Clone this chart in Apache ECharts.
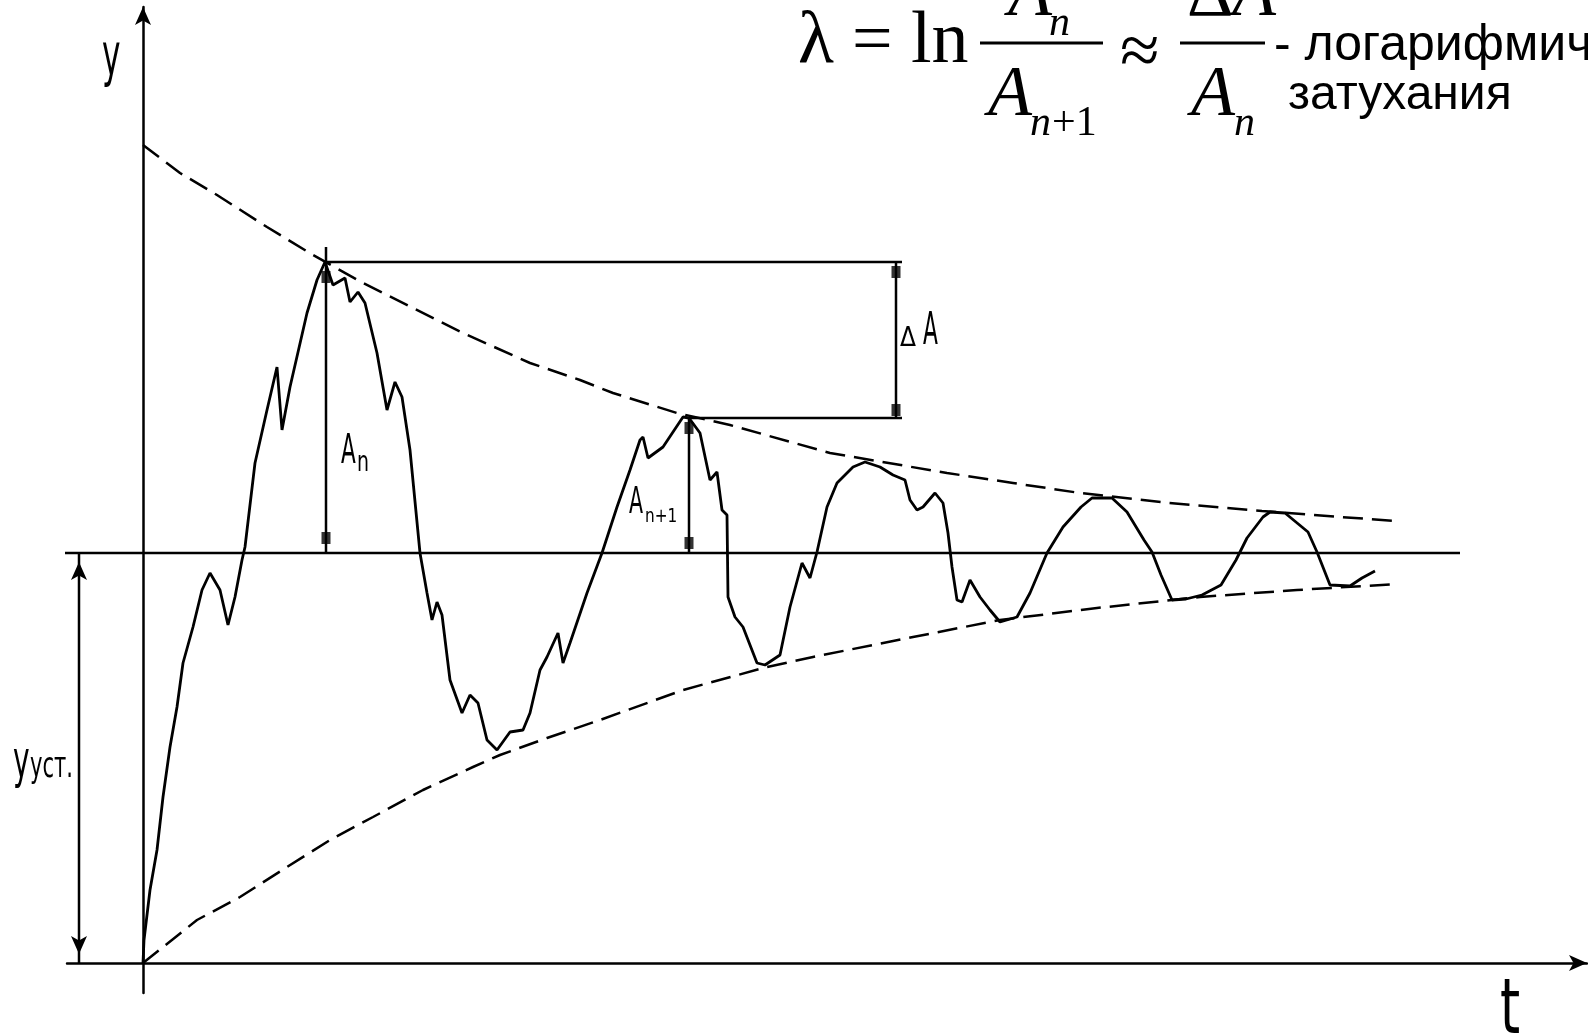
<!DOCTYPE html>
<html lang="ru">
<head>
<meta charset="UTF-8">
<title>Логарифмический декремент затухания</title>
<script src="https://cdn.jsdelivr.net/npm/echarts@6/dist/echarts.min.js"></script>
<style>
    html, body { margin: 0; padding: 0; background: #fff; }
    #chart { width: 1588px; height: 1036px; }
</style>
</head>
<body>
<div id="chart"></div>
<script>
// units: t and y both in 10px steps of the original drawing, y_уст = 41
var responseCurve = [
    [0,0],[0.1,2.3],[0.7,7.3],[1.4,11.3],[2.0,16.6],[2.7,21.6],[3.4,25.6],[4.0,30.0],[5.0,33.6],[5.9,37.3],
    [6.7,39.0],[7.7,37.3],[8.5,33.8],[9.2,36.6],[9.9,40.3],[10.2,41.6],[11.2,50.0],[12.4,55.3],[13.4,59.6],
    [13.9,53.3],[14.7,57.6],[16.4,65.0],[17.4,68.3],[18.2,70.1],[19.0,67.8],[20.2,68.5],[20.7,66.1],[21.5,67.1],
    [22.2,66.0],[23.4,61.0],[24.4,55.3],[25.2,58.1],[25.9,56.6],[26.7,51.3],[27.7,41.0],[28.4,37.0],[28.9,34.3],
    [29.4,36.1],[29.9,34.8],[30.7,28.3],[31.9,25.0],[32.7,26.8],[33.5,26.0],[34.4,22.3],[35.4,21.3],[36.7,23.1],
    [38.0,23.3],[38.7,25.0],[39.7,29.3],[40.4,30.6],[41.5,33.0],[42.0,30.0],[42.7,32.0],[44.4,37.0],[45.9,41.0],
    [47.4,45.6],[48.7,49.3],[49.7,52.3],[50.0,52.6],[50.5,50.5],[52.0,51.6],[54.0,54.6],[54.6,54.5],[55.7,53.0],
    [56.7,48.3],[57.4,49.1],[57.9,45.3],[58.4,44.8],[58.5,36.6],[59.2,34.6],[60.0,33.6],[61.4,30.0],[62.2,29.8],
    [63.7,30.8],[64.7,35.6],[65.9,40.0],[66.7,38.5],[67.4,41.1],[68.4,45.6],[69.4,48.0],[71.0,49.6],[72.2,50.1],
    [73.7,49.6],[75.0,48.8],[76.2,48.3],[76.7,46.3],[77.4,45.3],[78.0,45.6],[79.2,47.0],[80.0,46.0],[80.5,43.0],
    [80.9,39.6],[81.4,36.3],[81.9,36.1],[82.7,38.3],[83.7,36.6],[84.7,35.3],[85.7,34.1],[87.4,34.6],[88.7,37.0],
    [90.4,41.0],[92.0,43.6],[93.8,45.6],[94.9,46.5],[96.9,46.5],[98.4,45.1],[100.1,42.3],[100.9,41.1],[101.8,38.8],
    [102.9,36.3],[104.3,36.4],[105.9,36.8],[107.8,37.8],[109.3,40.3],[110.4,42.5],[112.0,44.6],[112.7,45.1],
    [114.2,45.0],[116.5,43.1],[117.4,41.1],[118.7,37.8],[120.7,37.7],[121.9,38.5],[123.2,39.2]
];
var upperEnvelope = [
    [0,81.8],[3.7,79.0],[7.4,76.8],[12.4,73.6],[17.0,70.8],[22.0,68.0],[32.0,63.0],[38.7,60.0],[43.7,58.3],
    [47.0,57.0],[53.4,55.0],[58.7,53.8],[68.7,51.0],[80.4,49.0],[87.0,48.0],[93.7,47.0],[102.6,46.0],
    [111.9,45.2],[119.7,44.6],[125.4,44.2]
];
var lowerEnvelope = [
    [0,0],[5.4,4.3],[9.7,6.6],[14.4,9.6],[18.7,12.3],[23.0,14.6],[28.0,17.3],[33.0,19.6],[35.7,20.8],[40.4,22.5],
    [45.7,24.3],[54.0,27.3],[62.4,29.6],[67.0,30.6],[77.0,32.6],[85.7,34.3],[95.4,35.5],[105.7,36.6],
    [115.4,37.3],[125.4,37.9]
];
var steadyLine = [[-8.3,41.0],[131.7,41.0]];
var amplitudeN = [[18.3,41.0],[18.3,71.6]];
var amplitudeN1 = [[54.6,41.0],[54.6,54.5]];
var deltaA = [[75.3,54.5],[75.3,70.1]];
var topLevel = [[18.3,70.1],[75.9,70.1]];
var lowLevel = [[54.6,54.5],[75.9,54.5]];
var endMarks = [[18.3,68.6],[18.3,42.5],[54.6,53.5],[54.6,42.0],[75.3,69.1],[75.3,55.3]];
var steadyArrow = [[-6.4,41.0],[-6.4,0]];

var SERIF = '"Liberation Serif", "Times New Roman", serif';
var SANS = '"Liberation Sans", Arial, sans-serif';
var CAD = '"DejaVu Sans Condensed", "DejaVu Sans", sans-serif';

function txt(str, left, base, size, family, opt) {
    opt = opt || {};
    return {
        type: 'text', silent: true,
        x: left, y: base - 0.35 * size,
        scaleX: opt.sx || 1,
        style: {
            text: str, fill: '#000',
            font: (opt.italic ? 'italic ' : '') + size + 'px ' + family,
            align: 'left', verticalAlign: 'middle'
        }
    };
}
function bar(x1, x2, y) {
    return { type: 'line', silent: true, shape: { x1: x1, y1: y, x2: x2, y2: y },
        style: { stroke: '#000', lineWidth: 3 } };
}
function plain(data, extra) {
    var s = {
        type: 'line', data: data, symbol: 'none', silent: true, animation: false,
        lineStyle: { color: '#000', width: 2.5 }
    };
    for (var k in extra) s[k] = extra[k];
    return s;
}

var chart = echarts.init(document.getElementById('chart'));
chart.setOption({
    backgroundColor: '#fff',
    animation: false,
    grid: { left: 67, right: 1, top: 7, bottom: 43, outerBoundsMode: 'none' },
    xAxis: {
        type: 'value', min: -7.6, max: 144.4,
        axisLine: { show: true, onZero: true, symbol: ['none', 'arrow'], symbolSize: [12, 18],
            lineStyle: { color: '#000', width: 2.5 } },
        axisTick: { show: false }, axisLabel: { show: false }, splitLine: { show: false }
    },
    yAxis: {
        type: 'value', min: -3, max: 95.6,
        axisLine: { show: true, onZero: true, symbol: ['none', 'arrow'], symbolSize: [12, 18],
            lineStyle: { color: '#000', width: 2.5 } },
        axisTick: { show: false }, axisLabel: { show: false }, splitLine: { show: false }
    },
    series: [
        plain(steadyLine, { clip: false }),
        plain(upperEnvelope, { lineStyle: { color: '#000', width: 2.5, type: [20, 9] } }),
        plain(lowerEnvelope, { lineStyle: { color: '#000', width: 2.5, type: [20, 9] } }),
        plain(responseCurve, { lineStyle: { color: '#000', width: 2.8 } }),
        plain(amplitudeN),
        plain(amplitudeN1),
        plain(deltaA),
        plain(topLevel),
        plain(lowLevel),
        {
            type: 'scatter', data: endMarks, symbol: 'rect', symbolSize: [9, 12], silent: true,
            itemStyle: { color: '#000' }
        },
        plain([
            { value: steadyArrow[0], symbol: 'arrow', symbolSize: [12, 18], symbolOffset: [0, '50%'] },
            { value: steadyArrow[1], symbol: 'arrow', symbolSize: [12, 18], symbolRotate: 180, symbolOffset: [0, '-50%'] }
        ], { symbol: 'arrow', showSymbol: true, itemStyle: { color: '#000' } })
    ],
    graphic: [
        // formula
        txt('λ', 798, 68, 74, SERIF),
        txt('=', 852, 68, 72, SERIF),
        txt('ln', 911, 68, 74, SERIF),
        bar(980, 1103, 43),
        txt('A', 1008, 21, 72, SERIF, { italic: true }),
        txt('n', 1049, 39, 42, SERIF, { italic: true }),
        txt('A', 988, 121, 72, SERIF, { italic: true }),
        txt('n', 1030, 139, 42, SERIF, { italic: true }),
        txt('+1', 1052, 139, 42, SERIF),
        txt('≈', 1120, 80, 72, SERIF),
        bar(1180, 1265, 43),
        txt('Δ', 1187, 21, 72, SERIF),
        txt('A', 1232, 21, 72, SERIF, { italic: true }),
        txt('A', 1191, 121, 72, SERIF, { italic: true }),
        txt('n', 1234, 139, 42, SERIF, { italic: true }),
        txt('- логарифмич', 1274, 64, 50, SANS),
        txt('затухания', 1288, 113, 48, SANS),
        // drawing labels
        txt('y', 102, 80, 58, CAD, { sx: 0.6 }),
        txt('t', 1500, 1040, 76, CAD, { sx: 0.75 }),
        txt('A', 341, 467, 40, CAD, { sx: 0.6 }),
        txt('n', 357, 474, 28, CAD, { sx: 0.75 }),
        txt('A', 629, 516, 38, CAD, { sx: 0.6 }),
        txt('n+1', 645, 524, 20, CAD, { sx: 0.85 }),
        txt('Δ', 900, 348, 26, CAD),
        txt('A', 923, 348, 44, CAD, { sx: 0.55 }),
        txt('y', 13, 782, 52, CAD, { sx: 0.6 }),
        txt('уст.', 30, 780, 36, CAD, { sx: 0.65 })
    ]
});
</script>
</body>
</html>
